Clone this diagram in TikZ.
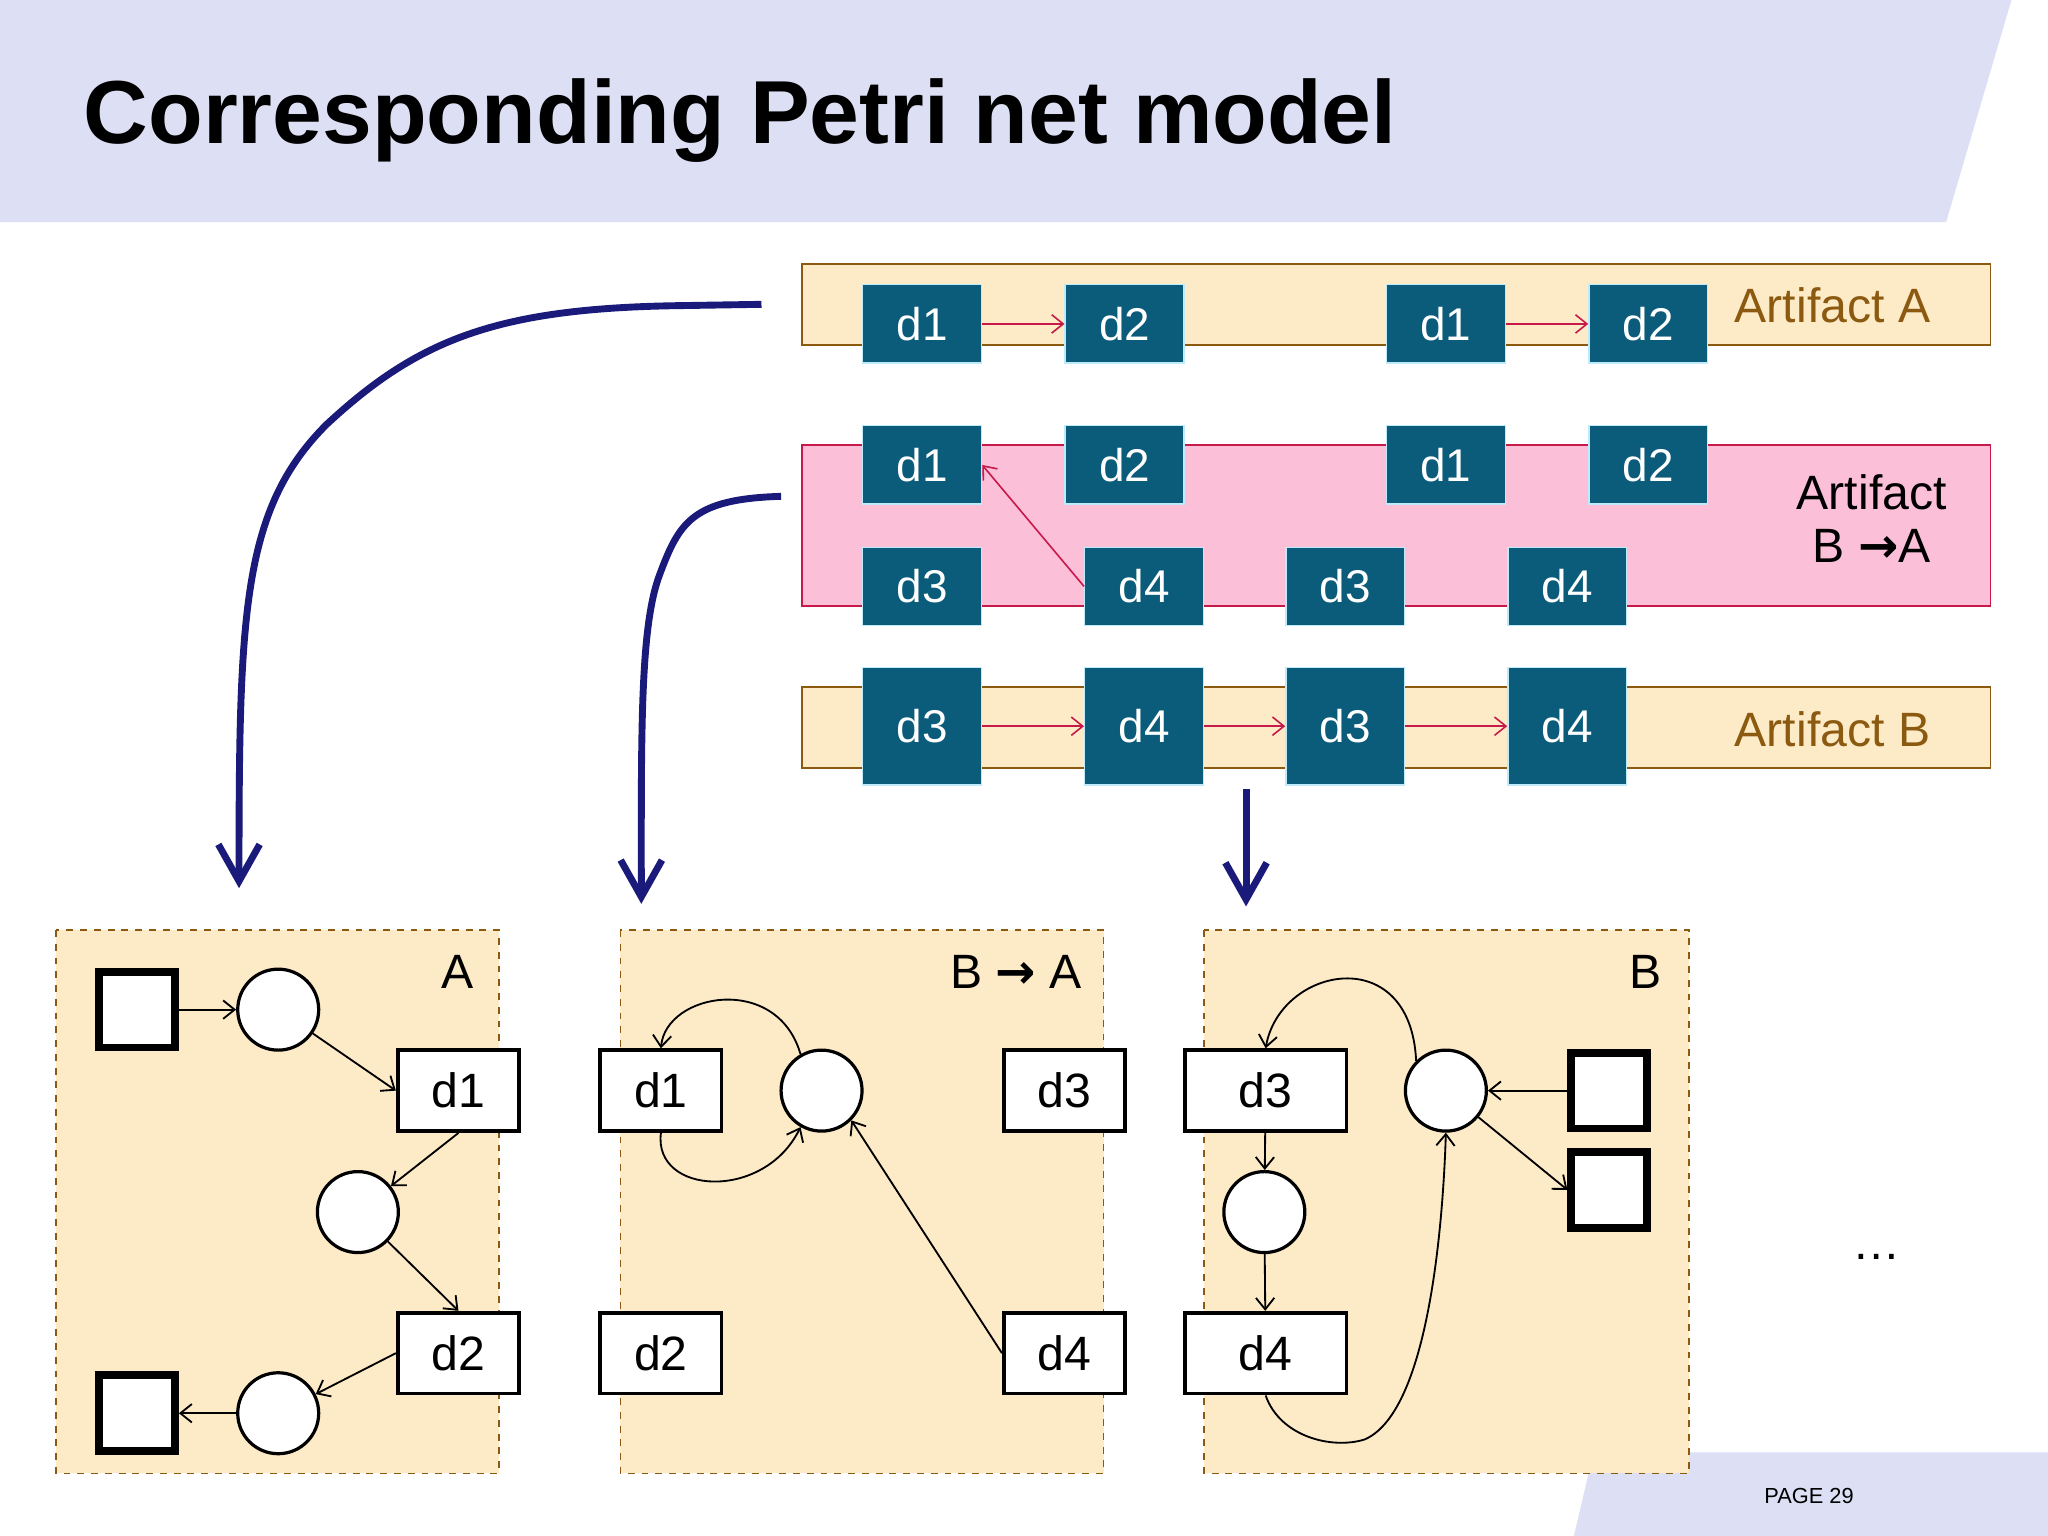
\documentclass[tikz,border=0pt]{standalone}
\usepackage{fontspec}
\setmainfont{Liberation Sans}
\newfontfamily\arrowfont{DejaVu Sans}
\usetikzlibrary{arrows.meta}
\definecolor{hdr}{HTML}{DDE0F4}
\definecolor{lane}{HTML}{FDEBC8}
\definecolor{laneb}{HTML}{8B5A10}
\definecolor{pinkf}{HTML}{FBBFD8}
\definecolor{pinkd}{HTML}{C8194B}
\definecolor{teal}{HTML}{0B5B7A}
\definecolor{navy}{HTML}{1A1A7A}
\newcommand{\myarr}{{\arrowfont\bfseries →}}
\tikzset{
 dbox/.style={draw=cyan!25,line width=0.6pt,fill=teal,text=white,minimum width=1.82cm,minimum height=1.2cm,inner sep=0,font=\fontsize{20}{22}\selectfont},
 rarr/.style={draw=pinkd,line width=0.7pt,-{Straight Barb[length=5pt,width=8pt]}},
 big/.style={draw=navy,line width=3pt,-{Straight Barb[length=16pt,width=18pt,line width=3pt]}},
 panel/.style={draw=laneb,dashed,fill=lane,line width=0.7pt},
 pbox/.style={draw,line width=1.6pt,fill=white,minimum width=1.86cm,minimum height=1.24cm,inner sep=0,font=\fontsize{21}{23}\selectfont},
 wbox/.style={pbox,minimum width=2.48cm},
 place/.style={circle,draw,line width=1.4pt,fill=white,minimum size=1.24cm,inner sep=0},
 sq/.style={draw,line width=3.4pt,fill=white,minimum size=1.16cm,inner sep=0},
 arc/.style={line width=0.8pt,-{Straight Barb[length=5pt,width=8pt]}},
 lbl/.style={font=\fontsize{21}{23}\selectfont},
}
\begin{document}
\begin{tikzpicture}[x=0.02cm,y=-0.02cm]
\useasboundingbox (0,0) rectangle (1568,1176);
\fill[white] (0,0) rectangle (1568,1176);
\fill[hdr] (0,0)--(1540,0)--(1490,170)--(0,170)--cycle;
\node[anchor=west,font=\bfseries\fontsize{39}{42}\selectfont] (title) at (58,92) {Corresponding Petri net model};
\fill[hdr] (1220,1112)--(1568,1112)--(1568,1176)--(1205,1176)--cycle;
\node[font=\fontsize{9.5}{11}\selectfont] (page) at (1385,1145) {PAGE 29};
% lanes
\draw[fill=lane,draw=laneb,line width=0.8pt] (614,202) rectangle (1524,264);
\draw[fill=pinkf,draw=pinkd,line width=0.8pt] (614,341) rectangle (1524,464);
\draw[fill=lane,draw=laneb,line width=0.8pt] (614,526) rectangle (1524,588);
\node[dbox] (a1) at (706,248) {d1};
\node[dbox] (a2) at (861,248) {d2};
\node[dbox] (a3) at (1107,248) {d1};
\node[dbox] (a4) at (1262,248) {d2};
\draw[rarr] (a1) -- (a2); \draw[rarr] (a3) -- (a4);
\node[lbl,text=laneb] (la) at (1403,234) {Artifact A};
\node[dbox] (b1) at (706,356) {d1};
\node[dbox] (b2) at (861,356) {d2};
\node[dbox] (b3) at (1107,356) {d1};
\node[dbox] (b4) at (1262,356) {d2};
\node[dbox] (b5) at (706,449) {d3};
\node[dbox] (b6) at (876,449) {d4};
\node[dbox] (b7) at (1030,449) {d3};
\node[dbox] (b8) at (1200,449) {d4};
\draw[rarr] (b6.west) -- (b1.east);
\node[lbl,align=center] (lb) at (1433,397) {Artifact\\B \myarr A};
\node[dbox,minimum height=1.8cm] (c1) at (706,556) {d3};
\node[dbox,minimum height=1.8cm] (c2) at (876,556) {d4};
\node[dbox,minimum height=1.8cm] (c3) at (1030,556) {d3};
\node[dbox,minimum height=1.8cm] (c4) at (1200,556) {d4};
\draw[rarr] (c1) -- (c2); \draw[rarr] (c2) -- (c3); \draw[rarr] (c3) -- (c4);
\node[lbl,text=laneb] (lc) at (1403,558) {Artifact B};
% big arrows
\coordinate (s1) at (583,233); \coordinate (e1) at (183,680);
\coordinate (s2) at (598,380); \coordinate (e2) at (491,692);
\coordinate (s3) at (954,604); \coordinate (e3) at (954,694);
\draw[big] (s1) -- (520,234) .. controls (380,236) and (320,260) .. (250,325) .. controls (185,390) and (183,470) .. (e1);
\draw[big] (s2) .. controls (530,382) and (520,400) .. (505,440) .. controls (490,480) and (491,560) .. (e2);
\draw[big] (s3) -- (e3);
% panels
\draw[panel] (43,712) rectangle (382,1128);
\draw[panel] (475,712) rectangle (845,1128);
\draw[panel] (922,712) rectangle (1293,1128);
\node[lbl] (pa) at (350,744) {A};
\node[lbl] (pb) at (778,744) {B \myarr\ A};
\node[lbl] (pc) at (1260,744) {B};
% panel A
\node[sq] (A0) at (105,773) {};
\node[place] (Ap1) at (213,773) {};
\node[pbox] (Ad1) at (351,835) {d1};
\node[place] (Ap2) at (274,928) {};
\node[pbox] (Ad2) at (351,1036) {d2};
\node[place] (Ap3) at (213,1082) {};
\node[sq] (A9) at (105,1082) {};
\draw[arc] (A0) -- (Ap1);
\draw[arc] (Ap1) -- (Ad1.west);
\draw[arc] (Ad1.south) -- (Ap2);
\draw[arc] (Ap2) -- (Ad2.north);
\draw[arc] (Ad2.west) -- (Ap3);
\draw[arc] (Ap3) -- (A9);
% panel B->A
\node[pbox] (Bd1) at (506,835) {d1};
\node[place] (Bp) at (629,835) {};
\node[pbox] (Bd3) at (815,835) {d3};
\node[pbox] (Bd2) at (506,1036) {d2};
\node[pbox] (Bd4) at (815,1036) {d4};
\draw[arc] (Bp.120) .. controls (595,745) and (510,760) .. (Bd1.north);
\draw[arc] (Bd1.south) .. controls (500,915) and (585,920) .. (Bp.240);
\draw[arc] (Bd4.west) -- (Bp.-45);
% panel B
\node[wbox] (Cd3) at (969,835) {d3};
\node[place] (Cp1) at (968,928) {};
\node[wbox] (Cd4) at (969,1036) {d4};
\node[place] (Cp2) at (1107,835) {};
\node[sq] (Cs1) at (1232,835) {};
\node[sq] (Cs2) at (1232,911) {};
\draw[arc] (Cd3) -- (Cp1);
\draw[arc] (Cp1) -- (Cd4);
\draw[arc] (Cp2.north west) .. controls (1080,720) and (980,740) .. (Cd3.north);
\draw[arc] (Cd4.south) .. controls (980,1100) and (1020,1110) .. (1045,1102) .. controls (1095,1080) and (1105,930) .. (Cp2.south);
\draw[arc] (Cs1) -- (Cp2);
\draw[arc] (Cp2) -- (Cs2.west);
\node[lbl] (dots) at (1437,962) {\dots};
\end{tikzpicture}
\end{document}
